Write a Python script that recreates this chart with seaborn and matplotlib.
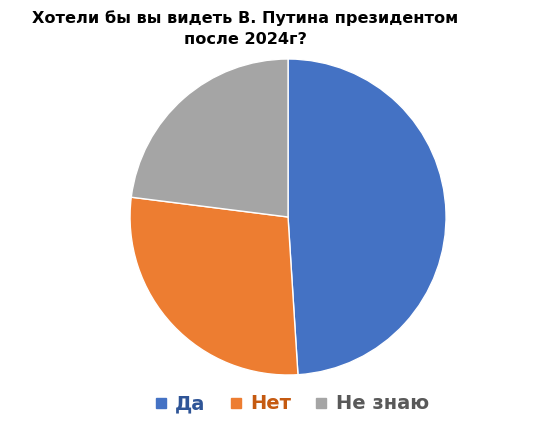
import matplotlib
matplotlib.use("Agg")
import matplotlib.pyplot as plt
from matplotlib.lines import Line2D
import seaborn as sns

labels = ["Да", "Нет", "Не знаю"]
values = [49, 28, 23]
colors = ["#4472C4", "#ED7D31", "#A5A5A5"]
text_colors = ["#2F5597", "#C55A11", "#595959"]
title = "Хотели бы вы видеть В. Путина президентом\nпосле 2024г?"

sns.set_theme(style="white")
plt.rcParams['font.family'] = ['DejaVu Sans']

fig = plt.figure(figsize=(5.51, 4.26), dpi=100)
ax = fig.add_axes([0.236, 0.1197, 0.5735, 0.7418])
ax.pie(values, colors=colors, startangle=90, counterclock=False,
       wedgeprops=dict(edgecolor="white", linewidth=1.0))
ax.set_xlim(-1, 1)
ax.set_ylim(-1, 1)
ax.set_aspect("equal")

fig.text(0.445, 0.975, title, ha="center", va="top", fontsize=11.6,
         fontweight="bold", linespacing=1.45, color="black")

handles = [Line2D([0], [0], marker="s", linestyle="none", markersize=6.5,
                  markerfacecolor=c, markeredgecolor=c) for c in colors]
leg = fig.legend(handles, labels, loc="center", bbox_to_anchor=(0.528, 0.052),
                 ncol=3, frameon=False, prop=dict(size=14, weight="bold"),
                 handletextpad=0.35, columnspacing=1.15, handlelength=0.8)
for t, c in zip(leg.get_texts(), text_colors):
    t.set_color(c)

fig.savefig("out.png", dpi=100, facecolor="white")
